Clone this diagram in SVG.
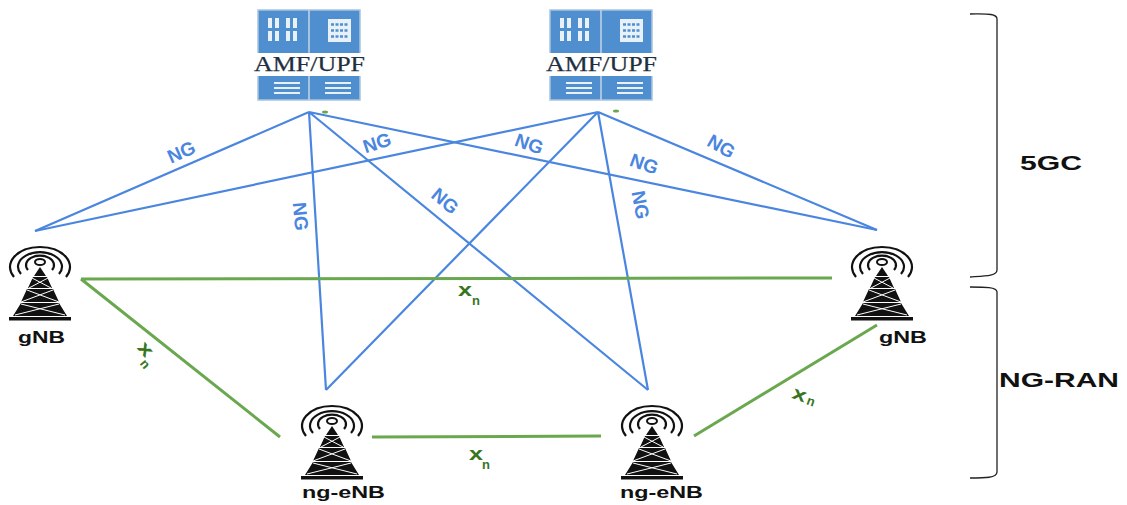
<svg xmlns="http://www.w3.org/2000/svg" width="1127" height="505" viewBox="0 0 1127 505">
<style>
.ng{stroke:#4a86e0;stroke-width:2.200;fill:none}
.xn{stroke:#6aa84f;stroke-width:3;fill:none}
.brace{stroke:#222;stroke-width:1.300;fill:none}
.ngl{font:bold 19px "Liberation Sans",Arial,sans-serif;fill:#4a86e0}
.xl{font:bold 19px "Liberation Sans",Arial,sans-serif;fill:#38761d}
.xs{font:bold 13px "Liberation Sans",Arial,sans-serif;fill:#38761d}
.lbl{font:bold 17px "Liberation Sans",Arial,sans-serif;fill:#111}
.big{font:bold 21px "Liberation Sans",Arial,sans-serif;fill:#111}
.srv{font:21px "Liberation Serif","Times New Roman",serif;fill:#1f2f40;stroke:#1f2f40;stroke-width:.25}
</style>
<defs>
<g id="tower">
<g fill="none" stroke="#111" stroke-width="2.200">
<path d="M-26 15A30 20 0 1 1 26 15"/>
<path d="M-19 12A22 14.500 0 1 1 19 12"/>
<path d="M-12 8A14 9.500 0 1 1 12 8"/>
</g>
<ellipse cx="0" cy="0" rx="5" ry="3" fill="none" stroke="#111" stroke-width="2"/>
<path d="M0 5L6 14H-6Z" fill="#111"/>
<path d="M-7 15H7L12 26H-12ZM-13 27H13L19 40H-19ZM-19 41H19L27 54H-27Z" fill="#111"/>
<path d="M-8 16L11 26M8 16L-11 26M-13 28L19 40M13 28L-19 40M-19 42L25 53M19 42L-25 53" stroke="#fff" stroke-width="1"/>
<rect x="-31" y="55" width="62" height="3.500" fill="#111"/>
</g>
<g id="server">
<rect x="0" y="0" width="102" height="90" fill="#4f8fd0" stroke="#a9c4de" stroke-width="1.500"/>
<path d="M51 0V90" stroke="#c4d4e4" stroke-width="1.500"/>
<g fill="#e8f0f8">
<path d="M10 8h4v10h-4zM17 8h4v10h-4zM28 8h4v10h-4zM35 8h4v10h-4zM10 21h4v10h-4zM17 21h4v10h-4zM28 21h4v10h-4zM35 21h4v10h-4z"/>
<rect x="70" y="9" width="23" height="23"/>
</g>
<path d="M73 14.500h17M73 20.500h17M73 26.500h17" stroke="#4f8fd0" stroke-width="2.500" stroke-dasharray="3 1.500"/>
<path d="M16 73h26M16 78h26M16 83h26M67 73h26M67 78h26M67 83h26" stroke="#e8f0f8" stroke-width="1.800"/>
</g>
</defs>
<rect width="1127" height="505" fill="#fff"/>

<g id="connectors">
<path class="ng" d="M309 112L35 231M309 112L326 390M309 112L648 390M309 112L877 230"/>
<path class="ng" d="M598 112L35 231M598 112L326 390M598 112L648 390M598 112L877 230"/>
<path class="xn" d="M81 279L832 278M81 279L280 437M372 437L601 436M694 436L877 325"/>
<ellipse cx="325" cy="112" rx="3" ry="1.500" fill="#6aa84f"/>
<ellipse cx="616" cy="111" rx="3" ry="1.500" fill="#6aa84f"/>
<text class="ngl" text-anchor="middle" transform="translate(184 158) rotate(-24)">NG</text>
<text class="ngl" text-anchor="middle" transform="translate(379 149) rotate(-18)">NG</text>
<text class="ngl" text-anchor="middle" transform="translate(294 217) rotate(85)">NG</text>
<text class="ngl" text-anchor="middle" transform="translate(441 206) rotate(40)">NG</text>
<text class="ngl" text-anchor="middle" transform="translate(527 150) rotate(20)">NG</text>
<text class="ngl" text-anchor="middle" transform="translate(642 170) rotate(20)">NG</text>
<text class="ngl" text-anchor="middle" transform="translate(634 206) rotate(80)">NG</text>
<text class="ngl" text-anchor="middle" transform="translate(718 152) rotate(30)">NG</text>
<text class="xl" x="458" y="296" textLength="14" lengthAdjust="spacingAndGlyphs">x</text><text class="xs" x="472" y="305">n</text>
<text class="xl" x="469" y="460" textLength="14" lengthAdjust="spacingAndGlyphs">x</text><text class="xs" x="482" y="469">n</text>
<g transform="translate(141 344) rotate(50)"><text class="xl" x="0" y="6" textLength="14" lengthAdjust="spacingAndGlyphs">x</text><text class="xs" x="14" y="14">n</text></g>
<g transform="translate(793 392) rotate(20)"><text class="xl" x="0" y="6" textLength="14" lengthAdjust="spacingAndGlyphs">x</text><text class="xs" x="16" y="7">n</text></g>
</g>

<g id="amf-upf-1">
<use href="#server" x="258" y="10"/>
<rect x="253" y="53" width="113" height="23" fill="#fff"/>
<text class="srv" x="254" y="71" textLength="111" lengthAdjust="spacingAndGlyphs">AMF/UPF</text>
</g>
<g id="amf-upf-2">
<use href="#server" x="550" y="10"/>
<rect x="545" y="53" width="113" height="23" fill="#fff"/>
<text class="srv" x="546" y="71" textLength="111" lengthAdjust="spacingAndGlyphs">AMF/UPF</text>
</g>
<g id="gnb-left">
<use href="#tower" x="40" y="262"/>
<text class="lbl" x="18" y="343" textLength="47" lengthAdjust="spacingAndGlyphs">gNB</text>
</g>
<g id="gnb-right">
<use href="#tower" x="882" y="262"/>
<text class="lbl" x="879" y="343" textLength="48" lengthAdjust="spacingAndGlyphs">gNB</text>
</g>
<g id="ng-enb-1">
<use href="#tower" x="332" y="421"/>
<text class="lbl" x="302" y="498" textLength="83" lengthAdjust="spacingAndGlyphs">ng-eNB</text>
</g>
<g id="ng-enb-2">
<use href="#tower" x="652" y="421"/>
<text class="lbl" x="620" y="498" textLength="83" lengthAdjust="spacingAndGlyphs">ng-eNB</text>
</g>
<g id="group-5gc">
<path class="brace" d="M970 14C985 14 997 13 997 19V270C997 276 985 276 970 277"/>
<text class="big" x="1020" y="170" textLength="62" lengthAdjust="spacingAndGlyphs">5GC</text>
</g>
<g id="group-ng-ran">
<path class="brace" d="M970 287C985 287 997 287 997 292V472C997 478 985 478 970 478"/>
<text class="big" x="999" y="387" textLength="120" lengthAdjust="spacingAndGlyphs">NG-RAN</text>
</g>
</svg>
